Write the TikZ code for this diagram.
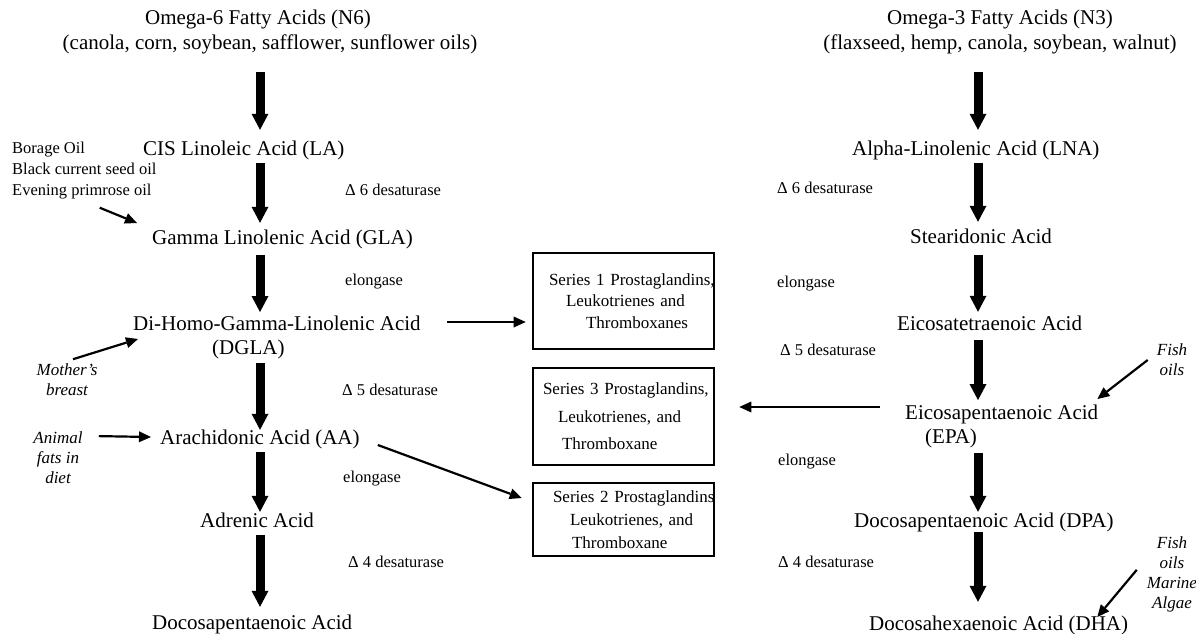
\documentclass[tikz,border=0pt]{standalone}
\usepackage{fontspec}
\setmainfont{Liberation Serif}
\usetikzlibrary{arrows.meta}
\newcommand\fmain{\fontsize{21}{24.5}\selectfont}
\newcommand\fsmall{\fontsize{16.5}{21}\selectfont}
\newcommand\fbx{\fontsize{17}{22}\selectfont}
\newcommand\fital{\fontsize{17}{20}\selectfont\itshape}
\begin{document}
\begin{tikzpicture}[x=1pt,y=-1pt,
  acid/.style={font=\fmain, inner sep=0pt, text height=15pt, text depth=5pt, anchor=base west},
  acidtwo/.style={font=\fmain, inner sep=0pt, align=left, anchor=west},
  title/.style={font=\fmain, inner sep=0pt, align=center},
  enz/.style={font=\fsmall, inner sep=0pt, anchor=base west},
  src/.style={font=\fital, inner sep=0pt, align=center},
  series/.style={draw, line width=2.6pt, font=\fbx, inner sep=0pt, text width=181pt, align=left},
  bigarrow/.style={line width=9pt, -{Triangle[width=17pt,length=16pt,line width=0pt]}},
  thinarrow/.style={line width=2.2pt, -{Triangle[width=11pt,length=12pt,line width=0pt]}}
]
\useasboundingbox (0,0) rectangle (1196,634);
\coordinate (cL) at (260,0);
\coordinate (cR) at (978,0);
% titles
\node[title] (t6) at (258,32) {Omega-6 Fatty Acids (N6)\\\hspace*{24pt}(canola, corn, soybean, safflower, sunflower oils)};
\node[title] (t3) at (1000,32) {Omega-3 Fatty Acids (N3)\\(flaxseed, hemp, canola, soybean, walnut)};
% omega-6 chain
\node[acid] (LA) at (143,155) {CIS Linoleic Acid (LA)};
\node[acid] (GLA) at (152,244) {Gamma Linolenic Acid (GLA)};
\node[acidtwo] (DGLA) at (133,337.5) {Di-Homo-Gamma-Linolenic Acid\\\hspace*{79pt}(DGLA)};
\node[acid] (AA) at (160,444) {Arachidonic Acid (AA)};
\node[acid] (AdA) at (200,527) {Adrenic Acid};
\node[acid] (DPn) at (152,629) {Docosapentaenoic Acid};
% omega-3 chain
\node[acid] (LNA) at (852,155) {Alpha-Linolenic Acid (LNA)};
\node[acid] (SDA) at (910,243) {Stearidonic Acid};
\node[acid] (ETA) at (897,330) {Eicosatetraenoic Acid};
\node[acidtwo] (EPA) at (905,426.5) {Eicosapentaenoic Acid\\\hspace*{20pt}(EPA)};
\node[acid] (DPA) at (854,527) {Docosapentaenoic Acid (DPA)};
\node[acid] (DHA) at (869,630) {Docosahexaenoic Acid (DHA)};
% enzymes
\node[enz] (eL1) at (345,195.5) {Δ 6 desaturase};
\node[enz] (eL2) at (345,285.5) {elongase};
\node[enz] (eL3) at (342,395.5) {Δ 5 desaturase};
\node[enz] (eL4) at (343,482.5) {elongase};
\node[enz] (eL5) at (348,567.5) {Δ 4 desaturase};
\node[enz] (eR1) at (777,193.5) {Δ 6 desaturase};
\node[enz] (eR2) at (777,287.5) {elongase};
\node[enz] (eR3) at (780,355.5) {Δ 5 desaturase};
\node[enz] (eR4) at (778,465.5) {elongase};
\node[enz] (eR5) at (778,567.5) {Δ 4 desaturase};
% sources
\node[font=\fsmall, inner sep=0pt, align=left, anchor=west] (borage) at (12,171) {Borage Oil\\Black current seed oil\\Evening primrose oil};
\node[src] (mother) at (67,380) {Mother’s\\breast};
\node[src] (animal) at (58,458) {Animal\\fats in\\diet};
\node[src] (fish1) at (1172,360) {Fish\\oils};
\node[src] (fish2) at (1172,574) {Fish\\oils\\Marine\\Algae};
% series boxes
\node[series, minimum height=96pt, font={\fontsize{17}{21.5}\selectfont}] (S1) at (623.5,301)
  {\hspace*{16pt}\mbox{Series 1 Prostaglandins,}\\\hspace*{33pt}\mbox{Leukotrienes and}\\\hspace*{53pt}\mbox{Thromboxanes}};
\node[series, minimum height=97pt, font={\fontsize{17}{27.5}\selectfont}] (S3) at (623.5,416.5)
  {\hspace*{10pt}\mbox{Series 3 Prostaglandins,}\\\hspace*{25pt}\mbox{Leukotrienes, and}\\\hspace*{29pt}\mbox{Thromboxane}};
\node[series, minimum height=73pt, font={\fontsize{17}{23}\selectfont}] (S2) at (623.5,519.5)
  {\hspace*{20pt}\mbox{Series 2 Prostaglandins}\\\hspace*{37pt}\mbox{Leukotrienes, and}\\\hspace*{39pt}\mbox{Thromboxane}};
% big arrows left
\draw[bigarrow, shorten <=18pt, shorten >=10pt] (t6.south -| cL) -- (LA.north -| cL);
\draw[bigarrow, shorten <=3pt, shorten >=6pt] (LA.south -| cL) -- (GLA.north -| cL);
\draw[bigarrow, shorten <=6pt, shorten >=3.5pt] (GLA.south -| cL) -- (DGLA.north -| cL);
\draw[bigarrow, shorten <=3.5pt, shorten >=-1pt] (DGLA.south -| cL) -- (AA.north -| cL);
\draw[bigarrow, shorten <=3pt, shorten >=0pt] (AA.south -| cL) -- (AdA.north -| cL);
\draw[bigarrow, shorten <=3pt, shorten >=7pt] (AdA.south -| cL) -- (DPn.north -| cL);
% big arrows right
\draw[bigarrow, shorten <=18pt, shorten >=10pt] (t3.south -| cR) -- (LNA.north -| cR);
\draw[bigarrow, shorten <=3pt, shorten >=6pt] (LNA.south -| cR) -- (SDA.north -| cR);
\draw[bigarrow, shorten <=7pt, shorten >=3pt] (SDA.south -| cR) -- (ETA.north -| cR);
\draw[bigarrow, shorten <=5pt, shorten >=4.5pt] (ETA.south -| cR) -- (EPA.north -| cR);
\draw[bigarrow, shorten <=4.5pt, shorten >=0pt] (EPA.south -| cR) -- (DPA.north -| cR);
\draw[bigarrow, shorten <=0pt, shorten >=13pt] (DPA.south -| cR) -- (DHA.north -| cR);
% arrows to boxes
\draw[thinarrow] ([shift={(26.5,-15.5)}]DGLA.east) -- ([shift={(-6,21)}]S1.west);
\draw[thinarrow] ([shift={(-25,-19.5)}]EPA.west) -- ([shift={(24,-9.5)}]S3.east);
\draw[thinarrow] ([shift={(18,6)}]AA.east) -- ([shift={(-10,-21.5)}]S2.west);
% source arrows
\draw[thinarrow] ([shift={(-57,8)}]borage.south east) -- ([shift={(-15,-16)}]GLA.west);
\draw[thinarrow] ([shift={(6,-4.6)}]mother.north) -- ([shift={(5,1.5)}]DGLA.west);
\draw[thinarrow] ([shift={(16,4.3)}]animal.north east) -- ([shift={(-9,-2)}]AA.west);
\draw[thinarrow] ([shift={(-9,0)}]fish1.west) -- ([shift={(-1,-27.5)}]EPA.east);
\draw[thinarrow] ([shift={(-10,-4.2)}]fish2.west) -- ([shift={(-31,-8)}]DHA.east);
\end{tikzpicture}
\end{document}
